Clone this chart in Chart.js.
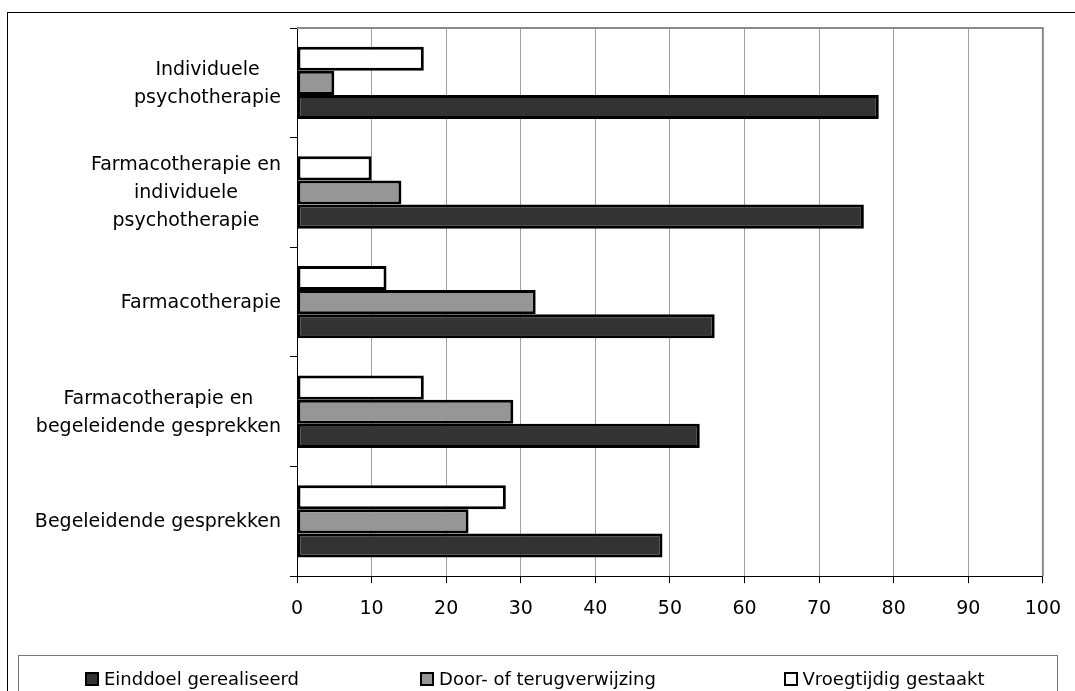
<!DOCTYPE html>
<html lang="nl">
<head>
    <meta charset="UTF-8">
    <title>Behandelresultaat per behandelvorm</title>
    <script src="https://cdn.jsdelivr.net/npm/chart.js"></script>
    <style>
        body {
            margin: 0;
            background: #fff;
            font-family: "DejaVu Sans", sans-serif;
        }
        #wrap {
            position: relative;
            width: 1075px;
            height: 691px;
            overflow: hidden;
        }
        #frame {
            position: absolute;
            left: 7px;
            top: 12px;
            right: -10px;
            bottom: -10px;
            border: 1px solid #000;
        }
        #chartBox {
            position: absolute;
            left: 0;
            top: 0;
            width: 1075px;
            height: 691px;
        }
        #legend {
            position: absolute;
            left: 18px;
            top: 655px;
            width: 1038px;
            height: 60px;
            border: 1px solid #777;
            display: grid;
            grid-template-columns: 1fr 1fr 1fr;
            font-size: 18px;
            color: #000;
        }
        .item {
            display: flex;
            justify-content: center;
            align-items: flex-start;
            padding-top: 12px;
        }
        .swatch {
            width: 10px;
            height: 10px;
            border: 2px solid #000;
            margin-right: 5px;
            margin-top: 4px;
        }
    </style>
</head>
<body>
<div id="wrap">
    <div id="frame"></div>
    <div id="chartBox"><canvas id="myChart"></canvas></div>
    <div id="legend"></div>
</div>

<script>
    // categorieën (van boven naar beneden)
    const categories = [
        ['Individuele', 'psychotherapie'],
        ['Farmacotherapie en', 'individuele', 'psychotherapie'],
        ['Farmacotherapie'],
        ['Farmacotherapie en', 'begeleidende gesprekken'],
        ['Begeleidende gesprekken']
    ];

    // percentages per reeks
    const vroegtijdig = [17, 10, 12, 17, 28];
    const verwijzing = [5, 14, 32, 29, 23];
    const einddoel = [78, 76, 56, 54, 49];

    const xTicks = [0, 10, 20, 30, 40, 50, 60, 70, 80, 90, 100];

    const seriesNames = ['Einddoel gerealiseerd', 'Door- of terugverwijzing', 'Vroegtijdig gestaakt'];
    const seriesColors = ['#333333', '#969696', '#ffffff'];

    const FONT = "'DejaVu Sans', sans-serif";

    // eigen labels links: blok rechts uitgelijnd, regels gecentreerd
    const yLabelPlugin = {
        id: 'yLabels',
        afterDraw(chart) {
            const ctx = chart.ctx;
            const y = chart.scales.y;
            const rightEdge = 281;
            const lh = 28;
            ctx.save();
            ctx.font = '19px ' + FONT;
            ctx.fillStyle = '#000';
            ctx.textAlign = 'center';
            ctx.textBaseline = 'middle';
            categories.forEach((lines, i) => {
                const cy = y.getPixelForValue(i);
                let maxW = 0;
                lines.forEach(l => { maxW = Math.max(maxW, ctx.measureText(l).width); });
                const cx = rightEdge - maxW / 2;
                lines.forEach((l, j) => {
                    ctx.fillText(l, cx, cy + (j - (lines.length - 1) / 2) * lh + 1);
                });
            });
            ctx.restore();
        }
    };

    // grijze rand boven en rechts van het plotvlak
    const plotBorder = {
        id: 'plotBorder',
        afterDraw(chart) {
            const a = chart.chartArea;
            const ctx = chart.ctx;
            ctx.save();
            ctx.strokeStyle = '#8a8a8a';
            ctx.lineWidth = 2;
            ctx.beginPath();
            ctx.moveTo(a.left, a.top);
            ctx.lineTo(a.right, a.top);
            ctx.lineTo(a.right, a.bottom);
            ctx.stroke();
            ctx.restore();
        }
    };

    const ctx = document.getElementById('myChart').getContext('2d');
    const myChart = new Chart(ctx, {
        type: 'bar',
        data: {
            labels: categories.map(c => c.join(' ')),
            datasets: [
                {
                    label: seriesNames[2],
                    data: vroegtijdig,
                    backgroundColor: seriesColors[2]
                },
                {
                    label: seriesNames[1],
                    data: verwijzing,
                    backgroundColor: seriesColors[1]
                },
                {
                    label: seriesNames[0],
                    data: einddoel,
                    backgroundColor: seriesColors[0]
                }
            ]
        },
        options: {
            indexAxis: 'y',
            responsive: true,
            maintainAspectRatio: false,
            animation: false,
            layout: {
                padding: { left: 290, top: 28, right: 32, bottom: 57 }
            },
            datasets: {
                bar: {
                    borderColor: '#000',
                    borderWidth: 3,
                    borderSkipped: false,
                    categoryPercentage: 0.66,
                    barPercentage: 1.0
                }
            },
            plugins: {
                legend: { display: false },
                tooltip: { enabled: false }
            },
            scales: {
                x: {
                    min: 0,
                    max: 100,
                    afterBuildTicks: s => { s.ticks = xTicks.map(v => ({ value: v })); },
                    ticks: {
                        color: '#000',
                        font: { family: FONT, size: 19 },
                        padding: 14,
                        maxRotation: 0
                    },
                    grid: {
                        color: '#a0a0a0',
                        tickColor: '#000',
                        tickLength: 7,
                        lineWidth: 1
                    },
                    border: { color: '#000', width: 1 }
                },
                y: {
                    ticks: { display: false },
                    grid: {
                        offset: true,
                        drawOnChartArea: false,
                        tickColor: '#000',
                        tickLength: 7
                    },
                    border: { color: '#000', width: 1 },
                    afterFit: s => { s.width = 7; }
                }
            }
        },
        plugins: [yLabelPlugin, plotBorder]
    });

    // legenda onderaan
    const legend = document.getElementById('legend');
    seriesNames.forEach((name, i) => {
        const item = document.createElement('div');
        item.className = 'item';
        const sw = document.createElement('span');
        sw.className = 'swatch';
        sw.style.background = seriesColors[i];
        const txt = document.createElement('span');
        txt.textContent = name;
        item.appendChild(sw);
        item.appendChild(txt);
        legend.appendChild(item);
    });
</script>
</body>
</html>
